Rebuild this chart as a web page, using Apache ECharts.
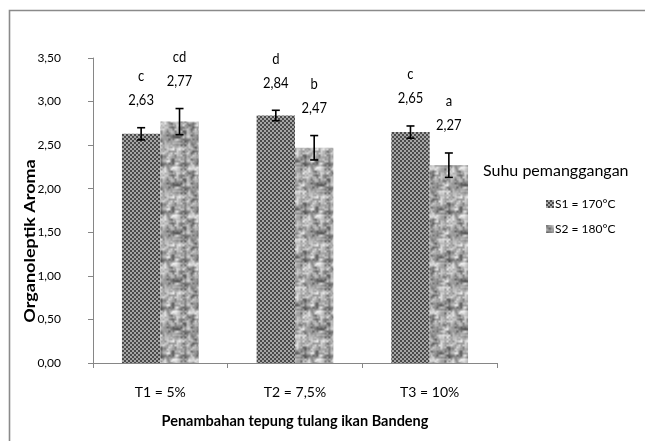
<!DOCTYPE html>
<html>
<head>
<meta charset="utf-8">
<script src="https://cdn.jsdelivr.net/npm/echarts@6/dist/echarts.min.js"></script>
<style>
  html, body { margin: 0; padding: 0; background: #fff; }
  #chart { width: 645px; height: 441px; }
</style>
</head>
<body>
<div id="chart"></div>
<script>
// Aroma scores by bone-flour level and baking temperature
const categories = ['T1 = 5%', 'T2 = 7,5%', 'T3 = 10%'];
const seriesNames = ['S1 = 170°C', 'S2 = 180°C'];
const s1Values = [2.63, 2.84, 2.65];
const s2Values = [2.77, 2.47, 2.27];
const s1Errors = [0.07, 0.06, 0.07];
const s2Errors = [0.15, 0.14, 0.14];
const s1Letters = ['c', 'd', 'c'];
const s2Letters = ['cd', 'b', 'a'];
const yTicks = { min: 0, max: 3.5, interval: 0.5 };

const FONT = 'Lato, "Open Sans", sans-serif';
const GAP = 0.43;

// Fine checkerboard fill
function checkerTile() {
  const c = document.createElement('canvas');
  c.width = 4; c.height = 4;
  const g = c.getContext('2d');
  for (let y = 0; y < 4; y += 2) {
    for (let x = 0; x < 4; x += 2) {
      g.fillStyle = ((x + y) / 2) % 2 === 0 ? '#4a4a4a' : '#a6a6a6';
      g.fillRect(x, y, 2, 2);
    }
  }
  return c;
}

// Mottled stone-like fill from a deterministic hash
function mottleTile() {
  const N = 48;
  const c = document.createElement('canvas');
  c.width = N; c.height = N;
  const g = c.getContext('2d');
  const img = g.createImageData(N, N);
  const h = (x, y) => {
    const s = Math.sin(((x % 12) * 127.1 + (y % 12) * 311.7)) * 43758.5453;
    return s - Math.floor(s);
  };
  const smooth = t => t * t * (3 - 2 * t);
  const noise = (px, py, cell) => {
    const gx = px / cell, gy = py / cell;
    const x0 = Math.floor(gx), y0 = Math.floor(gy);
    const fx = smooth(gx - x0), fy = smooth(gy - y0);
    const p = N / cell;
    const a = h(x0 % p, y0 % p), b = h((x0 + 1) % p, y0 % p);
    const cc = h(x0 % p, (y0 + 1) % p), d = h((x0 + 1) % p, (y0 + 1) % p);
    return (a * (1 - fx) + b * fx) * (1 - fy) + (cc * (1 - fx) + d * fx) * fy;
  };
  for (let y = 0; y < N; y++) {
    for (let x = 0; x < N; x++) {
      const v = 0.6 * noise(x, y, 4) + 0.4 * noise(x + 7, y + 3, 2);
      const col = Math.round(75 + v * 175);
      const i = (y * N + x) * 4;
      img.data[i] = img.data[i + 1] = img.data[i + 2] = col;
      img.data[i + 3] = 255;
    }
  }
  g.putImageData(img, 0, 0);
  return c;
}

const fills = [
  { image: checkerTile(), repeat: 'repeat' },
  { image: mottleTile(), repeat: 'repeat' }
];

const fmt = v => v.toFixed(2).replace('.', ',');

// Error bars plus letter/value annotations above each bar
function errorSeries(values, errors, letters, side) {
  return {
    type: 'custom',
    silent: true,
    z: 5,
    data: values.map((v, i) => [i, v, errors[i]]),
    renderItem: function (params, api) {
      const idx = api.value(0), mean = api.value(1), err = api.value(2);
      const band = api.size([1, 0])[0];
      const bw = band * (1 - GAP) / 2;
      const cx = api.coord([idx, mean])[0] + side * bw / 2;
      const top = api.coord([idx, mean + err])[1];
      const bot = api.coord([idx, mean - err])[1];
      const cap = 4;
      const st = { stroke: '#000', lineWidth: 1.6 };
      const font = '13px ' + FONT;
      return {
        type: 'group',
        children: [
          { type: 'line', shape: { x1: cx, y1: top, x2: cx, y2: bot }, style: st },
          { type: 'line', shape: { x1: cx - cap, y1: top, x2: cx + cap, y2: top }, style: st },
          { type: 'line', shape: { x1: cx - cap, y1: bot, x2: cx + cap, y2: bot }, style: st },
          { type: 'text', x: cx, y: top - 28, scaleY: 1.25, style: { text: fmt(mean), fill: '#000', font: font, align: 'center', verticalAlign: 'middle' } },
          { type: 'text', x: cx, y: top - 52, scaleY: 1.25, style: { text: letters[idx], fill: '#000', font: font, align: 'center', verticalAlign: 'middle' } }
        ]
      };
    }
  };
}

const chart = echarts.init(document.getElementById('chart'), null, { renderer: 'canvas' });
chart.setOption({
  backgroundColor: '#fff',
  animation: false,
  textStyle: { fontFamily: FONT },
  grid: { left: 93, right: 148, top: 58, bottom: 78, containLabel: false },
  legend: {
    orient: 'vertical',
    left: 541,
    top: 193,
    itemWidth: 8,
    itemHeight: 8,
    itemGap: 13,
    icon: 'rect',
    data: seriesNames,
    textStyle: { fontSize: 12, color: '#000', fontFamily: FONT, padding: [0, 0, 0, -4] }
  },
  xAxis: {
    type: 'category',
    data: categories,
    name: 'Penambahan tepung tulang ikan Bandeng',
    nameLocation: 'middle',
    nameGap: 51,
    nameTextStyle: { fontSize: 14.5, fontWeight: 'bold', color: '#000', fontFamily: FONT },
    axisLine: { lineStyle: { color: '#868686', width: 1 } },
    axisTick: { show: true, length: 5, alignWithLabel: false, lineStyle: { color: '#868686' } },
    axisLabel: { fontSize: 14, color: '#000', margin: 22, fontFamily: FONT },
    splitLine: { show: false }
  },
  yAxis: {
    type: 'value',
    min: yTicks.min,
    max: yTicks.max,
    interval: yTicks.interval,
    axisLine: { show: true, lineStyle: { color: '#868686', width: 1 } },
    axisTick: { show: true, length: 5, lineStyle: { color: '#868686' } },
    axisLabel: { fontSize: 12, color: '#000', margin: 32, align: 'right', formatter: fmt, fontFamily: FONT },
    splitLine: { show: false }
  },
  graphic: [
    { type: 'polyline', shape: { points: [[9.5, 441], [9.5, 10.5], [645, 10.5]] }, style: { stroke: '#8a8a8a', lineWidth: 1.6, fill: null } },
    { type: 'text', x: 30, y: 241, rotation: Math.PI / 2, scaleX: 1.2, style: { text: 'Organoleptik Aroma', font: 'bold 15px ' + FONT, fill: '#000', align: 'center', verticalAlign: 'middle' } },
    { type: 'text', x: 483, y: 171, style: { text: 'Suhu pemanggangan', font: '16px ' + FONT, fill: '#000', align: 'left', verticalAlign: 'middle' } }
  ],
  series: [
    { name: seriesNames[0], type: 'bar', data: s1Values, barGap: '0%', barCategoryGap: (GAP * 100) + '%', itemStyle: { color: fills[0] } },
    { name: seriesNames[1], type: 'bar', data: s2Values, barGap: '0%', barCategoryGap: (GAP * 100) + '%', itemStyle: { color: fills[1] } },
    errorSeries(s1Values, s1Errors, s1Letters, -1),
    errorSeries(s2Values, s2Errors, s2Letters, 1)
  ]
});
</script>
</body>
</html>
